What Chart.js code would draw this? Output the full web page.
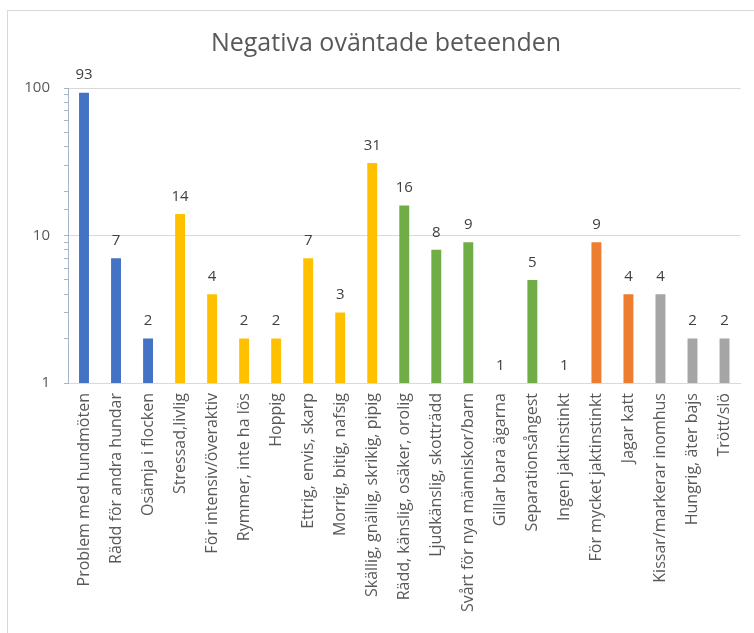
<!DOCTYPE html>
<html>
<head>
<meta charset="utf-8">
<script src="https://cdn.jsdelivr.net/npm/chart.js@4/dist/chart.umd.min.js"></script>
<style>
  html, body { margin: 0; padding: 0; background: #fff; overflow: hidden; }
  #frame { position: absolute; left: 7px; top: 10px; width: 760px; height: 640px; border: 1px solid #d9d9d9; }
  #wrap { position: absolute; left: 0; top: 0; width: 754px; height: 633px; }
</style>
</head>
<body>
<div id="frame"></div>
<div id="wrap"><canvas id="chart" width="754" height="633"></canvas></div>
<script>
// kategorier och värden
const categories = [
  'Problem med hundmöten', 'Rädd för andra hundar', 'Osämja i flocken',
  'Stressad,livlig', 'För intensiv/överaktiv', 'Rymmer, inte ha lös', 'Hoppig',
  'Ettrig, envis, skarp', 'Morrig, bitig, nafsig', 'Skällig, gnällig, skrikig, pipig',
  'Rädd, känslig, osäker, orolig', 'Ljudkänslig, skotträdd', 'Svårt för nya människor/barn',
  'Gillar bara ägarna', 'Separationsångest', 'Ingen jaktinstinkt',
  'För mycket jaktinstinkt', 'Jagar katt',
  'Kissar/markerar inomhus', 'Hungrig, äter bajs', 'Trött/slö'
];
const values = [93, 7, 2, 14, 4, 2, 2, 7, 3, 31, 16, 8, 9, 1, 5, 1, 9, 4, 4, 2, 2];
const groups = ['blue', 'blue', 'blue', 'yellow', 'yellow', 'yellow', 'yellow', 'yellow', 'yellow', 'yellow',
  'green', 'green', 'green', 'green', 'green', 'green', 'orange', 'orange', 'gray', 'gray', 'gray'];
const groupColors = { blue: '#4472C4', yellow: '#FFC000', green: '#70AD47', orange: '#ED7D31', gray: '#A5A5A5' };
const yTicks = [1, 10, 100];

// etiketter ovanför staplarna
const valueLabels = {
  id: 'valueLabels',
  afterDatasetsDraw(chart) {
    const ctx = chart.ctx;
    const meta = chart.getDatasetMeta(0);
    ctx.save();
    ctx.font = '15px "Open Sans"';
    ctx.fillStyle = '#404040';
    ctx.textAlign = 'center';
    ctx.textBaseline = 'bottom';
    meta.data.forEach((bar, i) => {
      ctx.fillText(String(values[i]), bar.x, bar.y - 10);
    });
    ctx.restore();
  }
};

// titeln centreras över hela ramen, inte bara plotytan
const shiftTitle = {
  id: 'shiftTitle',
  afterLayout(chart) {
    const t = chart.titleBlock;
    if (t) { t.left = 30; t.right = 742; }
  }
};

const isMajor = v => yTicks.includes(v);

new Chart(document.getElementById('chart'), {
  type: 'bar',
  data: {
    labels: categories,
    datasets: [{
      data: values,
      backgroundColor: groups.map(g => groupColors[g]),
      barPercentage: 0.31,
      categoryPercentage: 1
    }]
  },
  options: {
    responsive: false,
    animation: false,
    layout: { padding: { left: 0, right: 12, top: 0, bottom: 0 } },
    plugins: {
      legend: { display: false },
      tooltip: { enabled: false },
      title: {
        display: true,
        text: 'Negativa oväntade beteenden',
        color: '#595959',
        font: { family: '"Open Sans"', size: 25, weight: '400' },
        padding: { top: 29, bottom: 29 }
      }
    },
    scales: {
      x: {
        grid: { display: false, drawTicks: false },
        border: { color: '#d9d9d9' },
        ticks: {
          color: '#595959',
          font: { family: '"Open Sans"', size: 16 },
          minRotation: 90, maxRotation: 90,
          autoSkip: false,
          padding: 10
        },
        afterFit(scale) { scale.height = 250; }
      },
      y: {
        type: 'logarithmic',
        min: 1, max: 100,
        grid: {
          color: ctx => (ctx.tick && isMajor(ctx.tick.value)) ? '#d9d9d9' : 'rgba(0,0,0,0)',
          tickColor: '#a6b4c8',
          tickLength: 4,
          drawTicks: true
        },
        border: { color: '#a6b4c8' },
        ticks: {
          color: '#595959',
          font: { family: '"Open Sans"', size: 15 },
          padding: 14,
          autoSkip: false,
          callback: v => isMajor(v) ? String(v) : ''
        },
        afterFit(scale) { scale.width = 68; }
      }
    }
  },
  plugins: [valueLabels, shiftTitle]
});
</script>
</body>
</html>
